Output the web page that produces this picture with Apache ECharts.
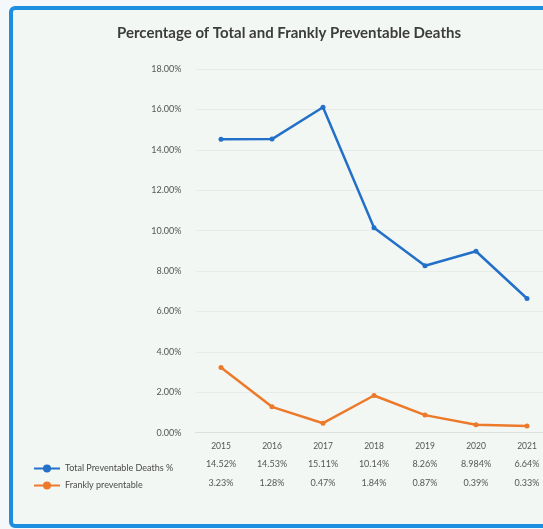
<!DOCTYPE html>
<html>
<head>
<meta charset="utf-8">
<script src="https://cdn.jsdelivr.net/npm/echarts@6/dist/echarts.min.js"></script>
<style>
html,body{margin:0;padding:0;width:543px;height:529px;overflow:hidden;background:#f4f8fa;}
#frame{position:absolute;left:9px;top:6px;width:570px;height:514px;border:4px solid #1c8fe0;border-radius:6px;background:#f3f7f4;}
#chart{position:absolute;left:0;top:0;width:560px;height:529px;}
</style>
</head>
<body>
<div id="frame"></div>
<div id="chart"></div>
<script>
const years = ['2015','2016','2017','2018','2019','2020','2021'];
const totalValues = [14.52, 14.53, 16.11, 10.14, 8.26, 8.98, 6.64];
const franklyValues = [3.23, 1.28, 0.47, 1.84, 0.87, 0.39, 0.33];
const totalLabels = ['14.52%','14.53%','15.11%','10.14%','8.26%','8.984%','6.64%'];
const franklyLabels = ['3.23%','1.28%','0.47%','1.84%','0.87%','0.39%','0.33%'];
const yTicks = {min: 0, max: 18, interval: 2};
const seriesNames = ['Total Preventable Deaths %', 'Frankly preventable'];

const blue = '#2270c8';
const orange = '#ec7a2a';
const font = 'Lato, "Liberation Sans", sans-serif';

const chart = echarts.init(document.getElementById('chart'), null, {renderer: 'canvas'});
chart.setOption({
  backgroundColor: 'transparent',
  animation: false,
  title: {
    text: 'Percentage of Total and Frankly Preventable Deaths',
    left: 284, textAlign: 'center', top: 21,
    textStyle: {fontFamily: font, fontWeight: 'bold', fontSize: 15, color: '#3c3c3c'}
  },
  legend: {
    orient: 'vertical', left: 28, top: 459, itemGap: 8,
    itemWidth: 26, itemHeight: 10,
    data: seriesNames,
    textStyle: {fontFamily: font, fontSize: 9, color: '#4a4a4a'}
  },
  grid: {left: 195.5, right: 7.5, top: 69, bottom: 96.3, containLabel: false},
  xAxis: [
    {type: 'category', data: years, boundaryGap: true,
     axisLine: {show: true, lineStyle: {color: '#dde1dd'}},
     axisTick: {show: false},
     axisLabel: {margin: 9, fontFamily: font, fontSize: 8.5, color: '#555'}},
    {type: 'category', data: totalLabels, position: 'bottom', offset: 18, gridIndex: 0,
     axisLine: {show: false}, axisTick: {show: false},
     axisLabel: {margin: 9, fontFamily: font, fontSize: 9, color: '#555'}},
    {type: 'category', data: franklyLabels, position: 'bottom', offset: 37, gridIndex: 0,
     axisLine: {show: false}, axisTick: {show: false},
     axisLabel: {margin: 9, fontFamily: font, fontSize: 9, color: '#555'}}
  ],
  yAxis: {
    type: 'value', min: yTicks.min, max: yTicks.max, interval: yTicks.interval,
    axisLine: {show: false}, axisTick: {show: false},
    splitLine: {lineStyle: {color: '#e8ece8', width: 1}},
    axisLabel: {margin: 14, fontFamily: font, fontSize: 9, color: '#555',
      formatter: v => v.toFixed(2) + '%'}
  },
  series: [
    {name: seriesNames[0], type: 'line', xAxisIndex: 0, data: totalValues,
     symbol: 'circle', symbolSize: 5,
     lineStyle: {color: blue, width: 2.5}, itemStyle: {color: blue}},
    {name: seriesNames[1], type: 'line', xAxisIndex: 0, data: franklyValues,
     symbol: 'circle', symbolSize: 5,
     lineStyle: {color: orange, width: 2.5}, itemStyle: {color: orange}}
  ]
});
</script>
</body>
</html>
